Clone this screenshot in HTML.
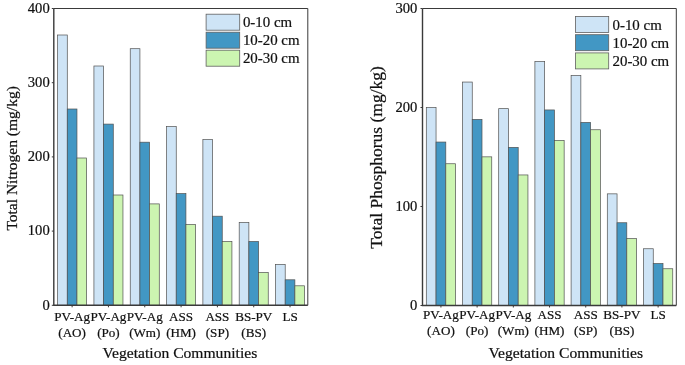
<!DOCTYPE html>
<html><head><meta charset="utf-8"><style>
html,body{margin:0;padding:0;background:#fff;width:685px;height:365px;overflow:hidden}
svg{display:block;will-change:transform}
text{font-family:"Liberation Serif",serif;fill:#111;stroke:#111;stroke-width:0.22px}
.tk{font-size:14.6px}
.cl{font-size:13.1px}
.ti{font-size:15.6px}
.tyl{font-size:15.5px}
.tyr{font-size:17.5px}
.lg{font-size:14.9px}
</style></head><body>
<svg width="685" height="365" viewBox="0 0 685 365">
<rect x="57.60" y="35.00" width="9.68" height="270.30" fill="#cee4f6" stroke="#505050" stroke-width="0.7"/>
<rect x="67.28" y="109.00" width="9.68" height="196.30" fill="#4297c4" stroke="#505050" stroke-width="0.7"/>
<rect x="76.96" y="158.00" width="9.68" height="147.30" fill="#ccf5b1" stroke="#505050" stroke-width="0.7"/>
<rect x="93.92" y="66.00" width="9.68" height="239.30" fill="#cee4f6" stroke="#505050" stroke-width="0.7"/>
<rect x="103.60" y="124.10" width="9.68" height="181.20" fill="#4297c4" stroke="#505050" stroke-width="0.7"/>
<rect x="113.28" y="195.00" width="9.68" height="110.30" fill="#ccf5b1" stroke="#505050" stroke-width="0.7"/>
<rect x="130.24" y="48.70" width="9.68" height="256.60" fill="#cee4f6" stroke="#505050" stroke-width="0.7"/>
<rect x="139.92" y="142.20" width="9.68" height="163.10" fill="#4297c4" stroke="#505050" stroke-width="0.7"/>
<rect x="149.60" y="203.90" width="9.68" height="101.40" fill="#ccf5b1" stroke="#505050" stroke-width="0.7"/>
<rect x="166.56" y="126.60" width="9.68" height="178.70" fill="#cee4f6" stroke="#505050" stroke-width="0.7"/>
<rect x="176.24" y="193.60" width="9.68" height="111.70" fill="#4297c4" stroke="#505050" stroke-width="0.7"/>
<rect x="185.92" y="224.50" width="9.68" height="80.80" fill="#ccf5b1" stroke="#505050" stroke-width="0.7"/>
<rect x="202.88" y="139.60" width="9.68" height="165.70" fill="#cee4f6" stroke="#505050" stroke-width="0.7"/>
<rect x="212.56" y="216.20" width="9.68" height="89.10" fill="#4297c4" stroke="#505050" stroke-width="0.7"/>
<rect x="222.24" y="241.50" width="9.68" height="63.80" fill="#ccf5b1" stroke="#505050" stroke-width="0.7"/>
<rect x="239.20" y="222.50" width="9.68" height="82.80" fill="#cee4f6" stroke="#505050" stroke-width="0.7"/>
<rect x="248.88" y="241.50" width="9.68" height="63.80" fill="#4297c4" stroke="#505050" stroke-width="0.7"/>
<rect x="258.56" y="272.50" width="9.68" height="32.80" fill="#ccf5b1" stroke="#505050" stroke-width="0.7"/>
<rect x="275.52" y="264.40" width="9.68" height="40.90" fill="#cee4f6" stroke="#505050" stroke-width="0.7"/>
<rect x="285.20" y="279.80" width="9.68" height="25.50" fill="#4297c4" stroke="#505050" stroke-width="0.7"/>
<rect x="294.88" y="285.80" width="9.68" height="19.50" fill="#ccf5b1" stroke="#505050" stroke-width="0.7"/>
<path d="M53.8 8.5H307.8V305.3" fill="none" stroke="#3a3a3a" stroke-width="1"/>
<path d="M53.8 8.5V305.3H307.8" fill="none" stroke="#3a3a3a" stroke-width="1.4"/>
<path d="M51.8 305.30H53.8" stroke="#3a3a3a" stroke-width="1"/>
<text x="49.7" y="309.50" text-anchor="end" class="tk">0</text>
<path d="M51.8 231.10H53.8" stroke="#3a3a3a" stroke-width="1"/>
<text x="49.7" y="235.30" text-anchor="end" class="tk">100</text>
<path d="M51.8 156.90H53.8" stroke="#3a3a3a" stroke-width="1"/>
<text x="49.7" y="161.10" text-anchor="end" class="tk">200</text>
<path d="M51.8 82.70H53.8" stroke="#3a3a3a" stroke-width="1"/>
<text x="49.7" y="86.90" text-anchor="end" class="tk">300</text>
<path d="M51.8 8.50H53.8" stroke="#3a3a3a" stroke-width="1"/>
<text x="49.7" y="12.70" text-anchor="end" class="tk">400</text>
<path d="M72.12 305.3V307.3" stroke="#3a3a3a" stroke-width="1"/>
<text x="72.12" y="321.30" text-anchor="middle" class="cl">PV-Ag</text>
<text x="72.12" y="336.80" text-anchor="middle" class="cl">(AO)</text>
<path d="M108.44 305.3V307.3" stroke="#3a3a3a" stroke-width="1"/>
<text x="108.44" y="321.30" text-anchor="middle" class="cl">PV-Ag</text>
<text x="108.44" y="336.80" text-anchor="middle" class="cl">(Po)</text>
<path d="M144.76 305.3V307.3" stroke="#3a3a3a" stroke-width="1"/>
<text x="144.76" y="321.30" text-anchor="middle" class="cl">PV-Ag</text>
<text x="144.76" y="336.80" text-anchor="middle" class="cl">(Wm)</text>
<path d="M181.08 305.3V307.3" stroke="#3a3a3a" stroke-width="1"/>
<text x="181.08" y="321.30" text-anchor="middle" class="cl">ASS</text>
<text x="181.08" y="336.80" text-anchor="middle" class="cl">(HM)</text>
<path d="M217.40 305.3V307.3" stroke="#3a3a3a" stroke-width="1"/>
<text x="217.40" y="321.30" text-anchor="middle" class="cl">ASS</text>
<text x="217.40" y="336.80" text-anchor="middle" class="cl">(SP)</text>
<path d="M253.72 305.3V307.3" stroke="#3a3a3a" stroke-width="1"/>
<text x="253.72" y="321.30" text-anchor="middle" class="cl">BS-PV</text>
<text x="253.72" y="336.80" text-anchor="middle" class="cl">(BS)</text>
<path d="M290.04 305.3V307.3" stroke="#3a3a3a" stroke-width="1"/>
<text x="290.04" y="321.30" text-anchor="middle" class="cl">LS</text>
<text x="179.90" y="357.80" text-anchor="middle" class="ti">Vegetation Communities</text>
<text transform="translate(16.6 158.4) rotate(-90)" text-anchor="middle" class="tyl">Total Nitrogen (mg/kg)</text>
<rect x="206.1" y="14.20" width="33.6" height="16.0" fill="#cee4f6" stroke="#606060" stroke-width="0.8"/>
<text x="242.9" y="27.20" class="lg">0-10 cm</text>
<rect x="206.1" y="32.20" width="33.6" height="16.0" fill="#4297c4" stroke="#606060" stroke-width="0.8"/>
<text x="242.9" y="45.20" class="lg">10-20 cm</text>
<rect x="206.1" y="50.20" width="33.6" height="16.0" fill="#ccf5b1" stroke="#606060" stroke-width="0.8"/>
<text x="242.9" y="63.20" class="lg">20-30 cm</text>
<rect x="426.30" y="107.55" width="9.75" height="197.95" fill="#cee4f6" stroke="#505050" stroke-width="0.7"/>
<rect x="436.05" y="142.05" width="9.75" height="163.45" fill="#4297c4" stroke="#505050" stroke-width="0.7"/>
<rect x="445.80" y="163.75" width="9.75" height="141.75" fill="#ccf5b1" stroke="#505050" stroke-width="0.7"/>
<rect x="462.50" y="82.05" width="9.75" height="223.45" fill="#cee4f6" stroke="#505050" stroke-width="0.7"/>
<rect x="472.25" y="119.35" width="9.75" height="186.15" fill="#4297c4" stroke="#505050" stroke-width="0.7"/>
<rect x="482.00" y="156.85" width="9.75" height="148.65" fill="#ccf5b1" stroke="#505050" stroke-width="0.7"/>
<rect x="498.70" y="108.65" width="9.75" height="196.85" fill="#cee4f6" stroke="#505050" stroke-width="0.7"/>
<rect x="508.45" y="147.35" width="9.75" height="158.15" fill="#4297c4" stroke="#505050" stroke-width="0.7"/>
<rect x="518.20" y="174.95" width="9.75" height="130.55" fill="#ccf5b1" stroke="#505050" stroke-width="0.7"/>
<rect x="534.90" y="61.55" width="9.75" height="243.95" fill="#cee4f6" stroke="#505050" stroke-width="0.7"/>
<rect x="544.65" y="109.95" width="9.75" height="195.55" fill="#4297c4" stroke="#505050" stroke-width="0.7"/>
<rect x="554.40" y="140.45" width="9.75" height="165.05" fill="#ccf5b1" stroke="#505050" stroke-width="0.7"/>
<rect x="571.10" y="75.55" width="9.75" height="229.95" fill="#cee4f6" stroke="#505050" stroke-width="0.7"/>
<rect x="580.85" y="122.45" width="9.75" height="183.05" fill="#4297c4" stroke="#505050" stroke-width="0.7"/>
<rect x="590.60" y="129.75" width="9.75" height="175.75" fill="#ccf5b1" stroke="#505050" stroke-width="0.7"/>
<rect x="607.30" y="193.85" width="9.75" height="111.65" fill="#cee4f6" stroke="#505050" stroke-width="0.7"/>
<rect x="617.05" y="222.75" width="9.75" height="82.75" fill="#4297c4" stroke="#505050" stroke-width="0.7"/>
<rect x="626.80" y="238.55" width="9.75" height="66.95" fill="#ccf5b1" stroke="#505050" stroke-width="0.7"/>
<rect x="643.50" y="248.75" width="9.75" height="56.75" fill="#cee4f6" stroke="#505050" stroke-width="0.7"/>
<rect x="653.25" y="263.55" width="9.75" height="41.95" fill="#4297c4" stroke="#505050" stroke-width="0.7"/>
<rect x="663.00" y="268.75" width="9.75" height="36.75" fill="#ccf5b1" stroke="#505050" stroke-width="0.7"/>
<path d="M422.5 8.5H676.3V305.5" fill="none" stroke="#3a3a3a" stroke-width="1"/>
<path d="M422.5 8.5V305.5H676.3" fill="none" stroke="#3a3a3a" stroke-width="1.4"/>
<path d="M420.5 305.50H422.5" stroke="#3a3a3a" stroke-width="1"/>
<text x="417.3" y="309.70" text-anchor="end" class="tk">0</text>
<path d="M420.5 206.50H422.5" stroke="#3a3a3a" stroke-width="1"/>
<text x="417.3" y="210.70" text-anchor="end" class="tk">100</text>
<path d="M420.5 107.50H422.5" stroke="#3a3a3a" stroke-width="1"/>
<text x="417.3" y="111.70" text-anchor="end" class="tk">200</text>
<path d="M420.5 8.50H422.5" stroke="#3a3a3a" stroke-width="1"/>
<text x="417.3" y="12.70" text-anchor="end" class="tk">300</text>
<path d="M440.93 305.5V307.5" stroke="#3a3a3a" stroke-width="1"/>
<text x="440.93" y="319.20" text-anchor="middle" class="cl">PV-Ag</text>
<text x="440.93" y="334.70" text-anchor="middle" class="cl">(AO)</text>
<path d="M477.12 305.5V307.5" stroke="#3a3a3a" stroke-width="1"/>
<text x="477.12" y="319.20" text-anchor="middle" class="cl">PV-Ag</text>
<text x="477.12" y="334.70" text-anchor="middle" class="cl">(Po)</text>
<path d="M513.33 305.5V307.5" stroke="#3a3a3a" stroke-width="1"/>
<text x="513.33" y="319.20" text-anchor="middle" class="cl">PV-Ag</text>
<text x="513.33" y="334.70" text-anchor="middle" class="cl">(Wm)</text>
<path d="M549.52 305.5V307.5" stroke="#3a3a3a" stroke-width="1"/>
<text x="549.52" y="319.20" text-anchor="middle" class="cl">ASS</text>
<text x="549.52" y="334.70" text-anchor="middle" class="cl">(HM)</text>
<path d="M585.73 305.5V307.5" stroke="#3a3a3a" stroke-width="1"/>
<text x="585.73" y="319.20" text-anchor="middle" class="cl">ASS</text>
<text x="585.73" y="334.70" text-anchor="middle" class="cl">(SP)</text>
<path d="M621.92 305.5V307.5" stroke="#3a3a3a" stroke-width="1"/>
<text x="621.92" y="319.20" text-anchor="middle" class="cl">BS-PV</text>
<text x="621.92" y="334.70" text-anchor="middle" class="cl">(BS)</text>
<path d="M658.12 305.5V307.5" stroke="#3a3a3a" stroke-width="1"/>
<text x="658.12" y="319.20" text-anchor="middle" class="cl">LS</text>
<text x="565.80" y="358.00" text-anchor="middle" class="ti">Vegetation Communities</text>
<text transform="translate(382.0 157.4) rotate(-90)" text-anchor="middle" class="tyr">Total Phosphorus (mg/kg)</text>
<rect x="575.5" y="16.50" width="33.2" height="16.0" fill="#cee4f6" stroke="#606060" stroke-width="0.8"/>
<text x="612.5" y="29.50" class="lg">0-10 cm</text>
<rect x="575.5" y="34.70" width="33.2" height="16.0" fill="#4297c4" stroke="#606060" stroke-width="0.8"/>
<text x="612.5" y="47.70" class="lg">10-20 cm</text>
<rect x="575.5" y="52.90" width="33.2" height="16.0" fill="#ccf5b1" stroke="#606060" stroke-width="0.8"/>
<text x="612.5" y="65.90" class="lg">20-30 cm</text>
</svg>
</body></html>
